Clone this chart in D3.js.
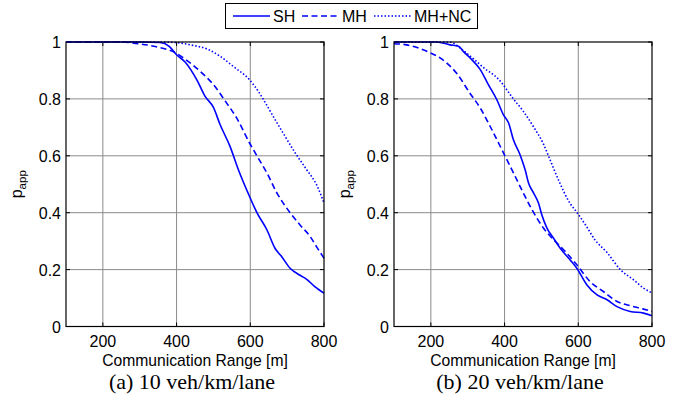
<!DOCTYPE html>
<html><head><meta charset="utf-8">
<script src="https://cdn.jsdelivr.net/npm/d3@7"></script>
<style>body{margin:0;background:#fff}svg{display:block}</style>
</head><body>
<svg id="c" width="680" height="400"></svg>
<script>
// ---- data ----
const seriesNames = ["SH", "MH", "MH+NC"];
const xTicks = [200, 400, 600, 800];
const yTicks = [0, 0.2, 0.4, 0.6, 0.8, 1];
const yTickLabels = ["0", "0.2", "0.4", "0.6", "0.8", "1"];
const captions = ["(a) 10 veh/km/lane", "(b) 20 veh/km/lane"];

const aSH_x = [100, 200, 300, 355, 380, 400, 423, 455, 477, 500, 518, 545, 568, 598, 618, 645, 667, 685, 708, 735, 753, 775, 800];
const aSH_y = [1, 1, 1, 0.998, 0.985, 0.955, 0.93, 0.867, 0.81, 0.77, 0.71, 0.633, 0.55, 0.457, 0.40, 0.34, 0.275, 0.246, 0.205, 0.18, 0.166, 0.14, 0.117];
const aMH_x = [100, 250, 283, 338, 400, 423, 464, 500, 536, 563, 598, 618, 645, 672, 708, 735, 762, 780, 800];
const aMH_y = [1, 1, 0.996, 0.985, 0.96, 0.94, 0.897, 0.85, 0.785, 0.733, 0.645, 0.60, 0.54, 0.47, 0.40, 0.357, 0.317, 0.28, 0.24];
const aNC_x = [100, 350, 400, 437, 487, 518, 554, 598, 622, 636, 662, 689, 722, 753, 780, 800];
const aNC_y = [1, 1, 0.998, 0.99, 0.973, 0.95, 0.914, 0.867, 0.826, 0.797, 0.739, 0.68, 0.61, 0.551, 0.498, 0.434];

const bSH_x = [100, 216, 252, 275, 288, 311, 334, 356, 379, 397, 411, 424, 442, 456, 465, 479, 492, 501, 515, 533, 551, 578, 596, 623, 651, 678, 705, 741, 777, 800];
const bSH_y = [1, 1, 0.99, 0.985, 0.967, 0.938, 0.903, 0.85, 0.797, 0.744, 0.715, 0.656, 0.604, 0.55, 0.504, 0.469, 0.434, 0.393, 0.346, 0.31, 0.275, 0.234, 0.205, 0.147, 0.111, 0.094, 0.07, 0.053, 0.047, 0.038];
const bMH_x = [100, 134, 198, 225, 270, 306, 334, 361, 401, 424, 451, 479, 506, 533, 560, 596, 632, 668, 705, 741, 777, 800];
const bMH_y = [0.994, 0.99, 0.962, 0.944, 0.89, 0.82, 0.768, 0.703, 0.60, 0.54, 0.469, 0.40, 0.345, 0.305, 0.27, 0.217, 0.158, 0.123, 0.088, 0.073, 0.061, 0.053];
const bNC_x = [100, 250, 288, 320, 343, 383, 424, 451, 478, 506, 519, 550, 577, 597, 623, 645, 678, 714, 750, 777, 800];
const bNC_y = [1, 1, 0.97, 0.936, 0.91, 0.87, 0.80, 0.756, 0.703, 0.64, 0.60, 0.504, 0.434, 0.40, 0.35, 0.305, 0.26, 0.20, 0.164, 0.135, 0.118];

const panels = [
  {x0: 66, x1: 324, caption: captions[0], series: [[aSH_x, aSH_y], [aMH_x, aMH_y], [aNC_x, aNC_y]]},
  {x0: 394, x1: 652, caption: captions[1], series: [[bSH_x, bSH_y], [bMH_x, bMH_y], [bNC_x, bNC_y]]}
];
const dashes = [null, "6,3.5", "1.5,2"];
const blue = "#0000ff";
const yTop = 42, yBot = 326.5;

const svg = d3.select("#c");
const font = "'Liberation Sans', Arial, sans-serif";

panels.forEach(p => {
  const x = d3.scaleLinear().domain([100, 800]).range([p.x0, p.x1]);
  const y = d3.scaleLinear().domain([0, 1]).range([yBot, yTop]);
  const g = svg.append("g");
  // grid
  g.selectAll(".gx").data(xTicks.filter(t => t < 800)).enter().append("line")
    .attr("x1", d => x(d)).attr("x2", d => x(d)).attr("y1", yTop).attr("y2", yBot)
    .attr("stroke", "#8a8a8a").attr("stroke-width", 1);
  g.selectAll(".gy").data(yTicks.filter(t => t > 0 && t < 1)).enter().append("line")
    .attr("y1", d => y(d)).attr("y2", d => y(d)).attr("x1", p.x0).attr("x2", p.x1)
    .attr("stroke", "#8a8a8a").attr("stroke-width", 1);
  // inward ticks on all sides
  const tl = 4;
  xTicks.forEach(t => {
    g.append("line").attr("x1", x(t)).attr("x2", x(t)).attr("y1", yBot).attr("y2", yBot - tl).attr("stroke", "#000");
    g.append("line").attr("x1", x(t)).attr("x2", x(t)).attr("y1", yTop).attr("y2", yTop + tl).attr("stroke", "#000");
  });
  yTicks.forEach(t => {
    g.append("line").attr("x1", p.x0).attr("x2", p.x0 + tl).attr("y1", y(t)).attr("y2", y(t)).attr("stroke", "#000");
    g.append("line").attr("x1", p.x1).attr("x2", p.x1 - tl).attr("y1", y(t)).attr("y2", y(t)).attr("stroke", "#000");
  });
  // lines
  const line = d3.line().x(d => x(d[0])).y(d => y(d[1])).curve(d3.curveMonotoneX);
  p.series.forEach((s, i) => {
    const pts = s[0].map((v, k) => [v, s[1][k]]);
    g.append("path").attr("d", line(pts)).attr("fill", "none")
      .attr("stroke", blue).attr("stroke-width", 1.6)
      .attr("stroke-dasharray", dashes[i]);
  });
  // box
  g.append("rect").attr("x", p.x0).attr("y", yTop).attr("width", p.x1 - p.x0).attr("height", yBot - yTop)
    .attr("fill", "none").attr("stroke", "#000").attr("stroke-width", 1.2);
  // tick labels
  g.selectAll(".xl").data(xTicks).enter().append("text")
    .attr("x", d => x(d)).attr("y", 347).attr("text-anchor", "middle")
    .attr("font-family", font).attr("font-size", 16).text(d => d);
  g.selectAll(".yl").data(yTicks).enter().append("text")
    .attr("x", p.x0 - 5).attr("y", d => y(d) + 6).attr("text-anchor", "end")
    .attr("font-family", font).attr("font-size", 16).text((d, i) => yTickLabels[i]);
  // axis labels
  g.append("text").attr("x", (p.x0 + p.x1) / 2).attr("y", 366).attr("text-anchor", "middle")
    .attr("font-family", font).attr("font-size", 15.7).text("Communication Range [m]");
  const yl = g.append("text").attr("transform", `translate(${p.x0 - 44},${(yTop + yBot) / 2}) rotate(-90)`)
    .attr("text-anchor", "middle").attr("font-family", font).attr("font-size", 16);
  yl.append("tspan").text("p");
  yl.append("tspan").attr("font-size", 11.5).attr("dy", 4).text("app");
  // caption
  g.append("text").attr("x", (p.x0 + p.x1) / 2 - 3).attr("y", 389).attr("text-anchor", "middle")
    .attr("font-family", "'Liberation Serif', 'Times New Roman', serif").attr("font-size", 22).text(p.caption);
});

// legend
const lg = svg.append("g");
lg.append("rect").attr("x", 225.5).attr("y", 3.5).attr("width", 252).attr("height", 25)
  .attr("fill", "#fff").attr("stroke", "#000").attr("stroke-width", 1);
const legX = [233, 302, 374];
seriesNames.forEach((n, i) => {
  lg.append("line").attr("x1", legX[i]).attr("x2", legX[i] + 37).attr("y1", 16).attr("y2", 16)
    .attr("stroke", blue).attr("stroke-width", 1.6).attr("stroke-dasharray", dashes[i]);
  lg.append("text").attr("x", legX[i] + 40).attr("y", 22).attr("font-family", font).attr("font-size", 16).text(n);
});
</script>
</body></html>
